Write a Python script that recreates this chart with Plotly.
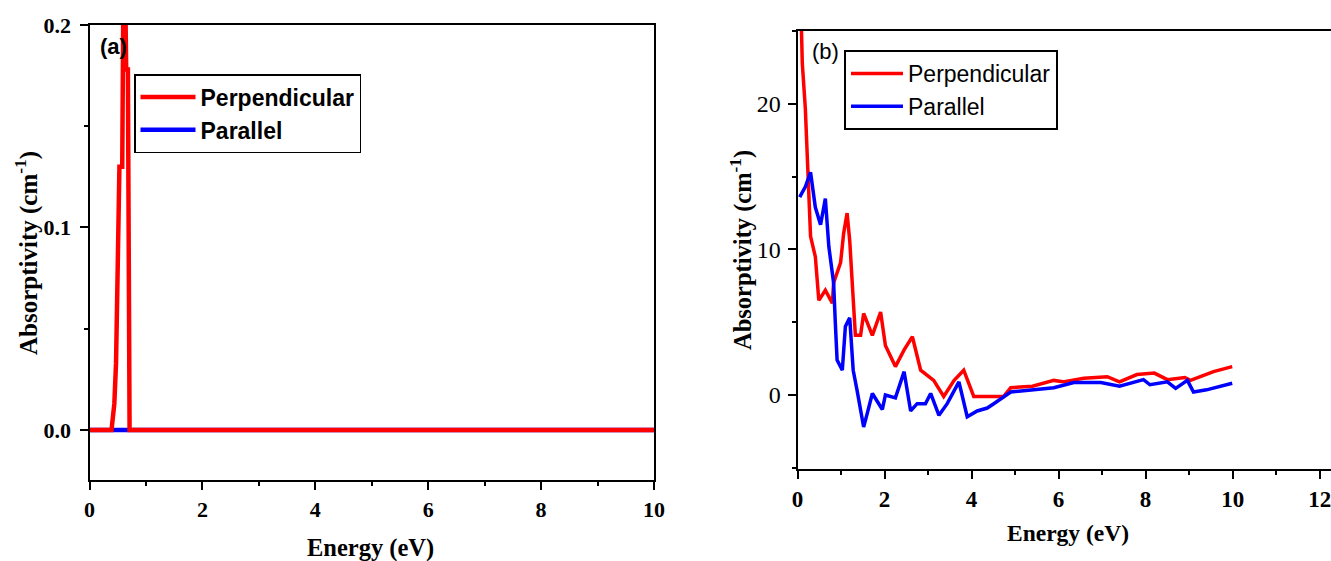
import plotly.graph_objects as go

# ---------------- data ----------------
# Panel (a)
energy_a_perp = [0, 0.39, 0.44, 0.47, 0.50, 0.53, 0.58, 0.59, 0.62, 0.64, 0.65, 0.68, 0.70, 0.71, 10]
perp_a = [0, 0, 0.013, 0.033, 0.081, 0.13, 0.13, 0.26, 0.30, 0.20, 0.178, 0.178, 0.10, 0, 0]
energy_a_par = [0, 2, 4, 6, 8, 10]
par_a = [0, 0, 0, 0, 0, 0]

# Panel (b)
energy_b_perp = [0.05, 0.11, 0.18, 0.22, 0.30, 0.41, 0.49, 0.64, 0.80, 0.83, 0.99, 1.06, 1.14,
                 1.20, 1.26, 1.33, 1.45, 1.52, 1.72, 1.91, 2.02, 2.25, 2.45, 2.64, 2.83, 3.13,
                 3.36, 3.60, 3.82, 4.05, 4.74, 4.90, 5.40, 5.89, 6.10, 6.58, 7.12, 7.40, 7.80,
                 8.20, 8.50, 8.90, 9.03, 9.56, 9.99]
perp_b = [30, 22.8, 19.7, 16.4, 10.9, 9.5, 6.5, 7.2, 6.3, 7.7, 9.1, 11.1, 12.5,
          10.6, 7.7, 4.1, 4.1, 5.6, 4.1, 5.7, 3.4, 1.95, 3.1, 4.0, 1.7, 1.0,
          -0.1, 1.0, 1.7, -0.1, -0.1, 0.5, 0.6, 1.0, 0.9, 1.15, 1.25, 0.9, 1.4,
          1.5, 1.05, 1.2, 1.0, 1.6, 1.95]
energy_b_par = [0.05, 0.18, 0.30, 0.41, 0.53, 0.64, 0.72, 0.83, 0.87, 0.91, 1.03, 1.10, 1.20,
                1.28, 1.37, 1.52, 1.60, 1.72, 1.95, 2.02, 2.25, 2.45, 2.60, 2.75, 2.94, 3.06,
                3.25, 3.44, 3.71, 3.90, 4.13, 4.36, 4.51, 4.67, 4.90, 5.43, 5.89, 6.35, 6.97,
                7.40, 7.95, 8.10, 8.50, 8.69, 8.96, 9.10, 9.40, 9.99]
par_b = [13.6, 14.3, 15.3, 12.9, 11.7, 13.5, 10.2, 7.7, 4.9, 2.4, 1.7, 4.7, 5.3,
         1.7, 0.3, -2.2, -1.3, 0.1, -1.0, 0.0, -0.2, 1.6, -1.1, -0.6, -0.6, 0.1,
         -1.4, -0.6, 0.9, -1.5, -1.1, -0.9, -0.6, -0.3, 0.2, 0.35, 0.5, 0.85, 0.85,
         0.6, 1.05, 0.7, 0.9, 0.45, 1.0, 0.2, 0.35, 0.8]

# ---------------- figure ----------------
W, H = 1331, 561
RED, BLUE = "#ff0000", "#0000ff"
SERIF = "Liberation Serif, Times New Roman, serif"
SANS = "Liberation Sans, Arial, sans-serif"

fig = go.Figure()

fig.add_trace(go.Scatter(x=energy_a_par, y=par_a, mode="lines", name="<b>Parallel</b>",
                         line=dict(color=BLUE, width=4.5), xaxis="x", yaxis="y", legend="legend"))
fig.add_trace(go.Scatter(x=energy_a_perp, y=perp_a, mode="lines", name="<b>Perpendicular</b>",
                         line=dict(color=RED, width=4.5), xaxis="x", yaxis="y", legend="legend"))
fig.add_trace(go.Scatter(x=energy_b_perp, y=perp_b, mode="lines", name="Perpendicular",
                         line=dict(color=RED, width=3.5), xaxis="x2", yaxis="y2", legend="legend2"))
fig.add_trace(go.Scatter(x=energy_b_par, y=par_b, mode="lines", name="Parallel",
                         line=dict(color=BLUE, width=3.5), xaxis="x2", yaxis="y2", legend="legend2"))

axis_common = dict(showline=True, linecolor="black", linewidth=2, showgrid=False, zeroline=False,
                   ticks="outside", ticklen=8, tickwidth=2, tickcolor="black", automargin=False,
                   ticklabeloverflow="allow")

fig.update_layout(
    width=W, height=H, autosize=False,
    margin=dict(l=0, r=0, t=0, b=0, pad=0),
    paper_bgcolor="white", plot_bgcolor="white",
    xaxis=dict(**axis_common, domain=[89.5 / W, 654 / W], range=[0, 10], dtick=2, mirror=True,
               anchor="y",
               minor=dict(dtick=1, ticks="outside", ticklen=4, tickwidth=2, tickcolor="black"),
               tickfont=dict(family=SERIF, size=22, color="black", weight="bold"),
               ticklabelstandoff=1),
    yaxis=dict(**axis_common, domain=[1 - 480 / H, 1 - 25 / H], range=[-0.0247, 0.2], dtick=0.1,
               tickformat=".1f", mirror=True, anchor="x",
               minor=dict(dtick=0.05, ticks="outside", ticklen=4, tickwidth=2, tickcolor="black"),
               tickfont=dict(family=SERIF, size=22, color="black", weight="bold"),
               ticklabelstandoff=4),
    xaxis2=dict(**axis_common, domain=[797.5 / W, 1.0], range=[0, 12.26], dtick=2, mirror=True,
                anchor="y2",
                minor=dict(dtick=1, ticks="outside", ticklen=4, tickwidth=2, tickcolor="black"),
                tickfont=dict(family=SERIF, size=23, color="black", weight="bold"),
                ticklabelstandoff=0),
    yaxis2=dict(**axis_common, domain=[1 - 469 / H, 1 - 30.5 / H], range=[-5.09, 25.05], dtick=10,
                mirror=False, anchor="x2",
                minor=dict(dtick=5, ticks="outside", ticklen=4, tickwidth=2, tickcolor="black"),
                tickfont=dict(family=SERIF, size=24, color="black"),
                ticklabelstandoff=2),
    legend=dict(x=134 / W, y=1 - 74 / H, xanchor="left", yanchor="top",
                bordercolor="black", borderwidth=1.5, bgcolor="white",
                font=dict(family=SANS, size=23, color="black"),
                traceorder="reversed", itemwidth=55, tracegroupgap=0),
    legend2=dict(x=844 / W, y=1 - 50 / H, xanchor="left", yanchor="top",
                 bordercolor="black", borderwidth=2, bgcolor="white",
                 font=dict(family=SANS, size=23, color="black"),
                 traceorder="normal", itemwidth=52, tracegroupgap=0),
    showlegend=True,
)

ann_common = dict(xref="paper", yref="paper", showarrow=False)
fig.add_annotation(**ann_common, x=98 / W, y=1 - 47 / H, xanchor="left", yanchor="middle",
                   text="<b>(a)</b>", font=dict(family=SANS, size=22, color="black"))
fig.add_annotation(**ann_common, x=810 / W, y=1 - 52 / H, xanchor="left", yanchor="middle",
                   text="(b)", font=dict(family=SANS, size=22, color="black"))
fig.add_annotation(**ann_common, x=371 / W, y=1 - 548 / H, xanchor="center", yanchor="middle",
                   text="<b>Energy (eV)</b>", font=dict(family=SERIF, size=24.5, color="black"))
fig.add_annotation(**ann_common, x=1068 / W, y=1 - 533 / H, xanchor="center", yanchor="middle",
                   text="<b>Energy (eV)</b>", font=dict(family=SERIF, size=23.5, color="black"))
fig.add_annotation(**ann_common, x=27 / W, y=1 - 253 / H, xanchor="center", yanchor="middle",
                   textangle=-90, text="<b>Absorptivity (cm<sup>-1</sup>)</b>",
                   font=dict(family=SERIF, size=25, color="black"))
fig.add_annotation(**ann_common, x=742 / W, y=1 - 250 / H, xanchor="center", yanchor="middle",
                   textangle=-90, text="<b>Absorptivity (cm<sup>-1</sup>)</b>",
                   font=dict(family=SERIF, size=24.5, color="black"))

fig.write_html(
    "out.html",
    config={"displayModeBar": False},
    post_script="document.body.style.margin='0';document.body.style.overflow='hidden';",
)
